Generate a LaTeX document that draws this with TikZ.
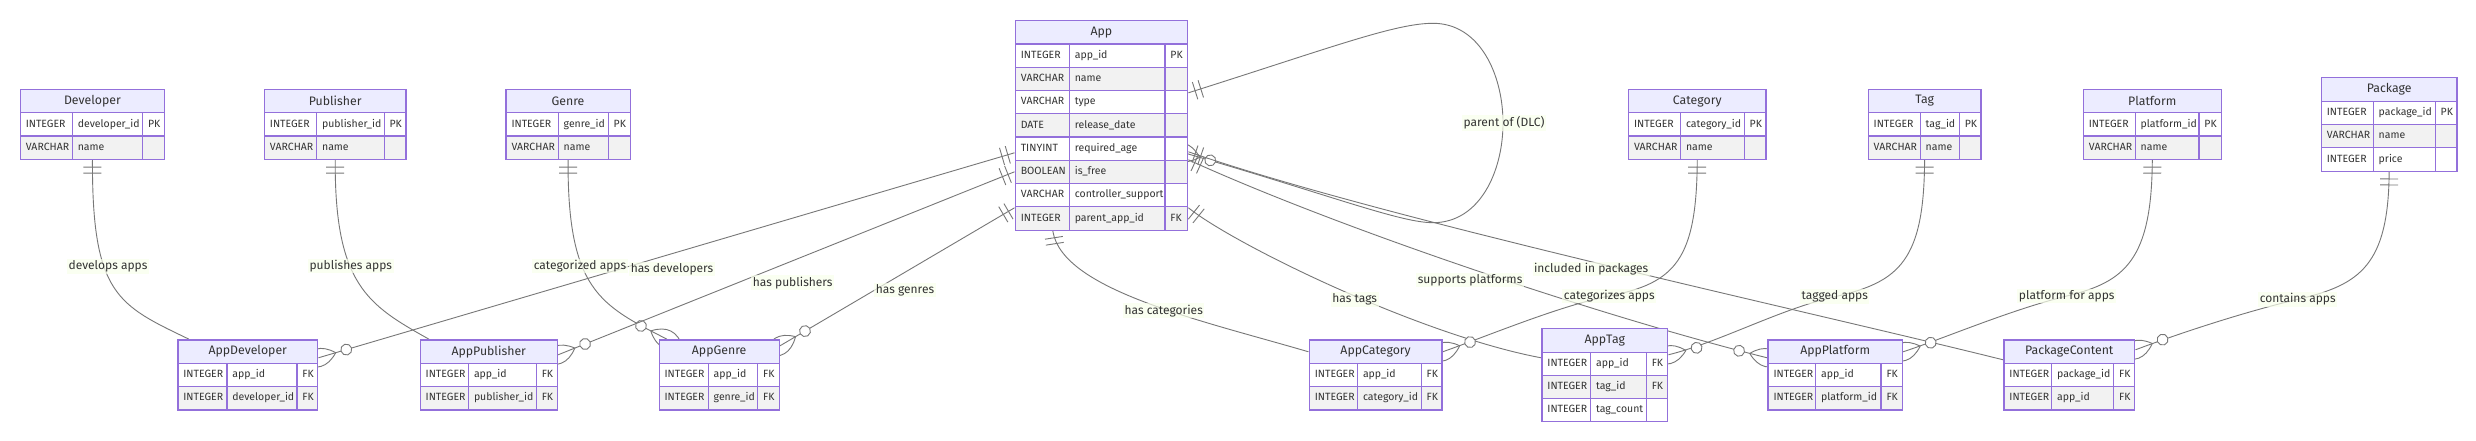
\documentclass[tikz,border=0pt]{standalone}
\usepackage{fontspec}
\setmainfont{Fira Sans}
\usetikzlibrary{fit,decorations.markings}

\definecolor{erpurple}{HTML}{9370DB}
\definecolor{headfill}{HTML}{ECECFF}
\definecolor{rowgray}{HTML}{F2F2F2}
\definecolor{relgray}{HTML}{777777}
\definecolor{lblfill}{HTML}{F9FFEC}
\definecolor{txt}{HTML}{333333}

\pgfdeclarelayer{bg}
\pgfsetlayers{bg,main}

\tikzset{
  erhead/.style={draw=erpurple, line width=1.2pt, fill=headfill, text=txt, inner sep=0pt,
    minimum height=23.5pt, font=\fontsize{12.3}{14}\selectfont},
  ercell/.style={draw=erpurple, line width=1.2pt, text=txt, inner xsep=5.5pt, inner ysep=0pt,
    minimum height=23.25pt, align=left, text height=7.6pt, text depth=2.4pt,
    font=\fontsize{10.5}{12}\selectfont},
  rellabel/.style={fill=lblfill, fill opacity=0.7, text opacity=1, text=txt, inner sep=1.5pt,
    font=\fontsize{12}{14}\selectfont},
  relmark/.style={draw=relgray, line width=0.9pt},
  rel/.style={draw=relgray, line width=0.9pt, postaction={decorate, decoration={markings,
      mark=at position 0 with {\draw[relmark] (7,-9) -- (7,9) (13,-9) -- (13,9);},
      mark=at position 1 with {\draw[relmark] (-18,0) .. controls (-6,12) and (6,12) .. (18,0)
          .. controls (6,-12) and (-6,-12) .. (-18,0);
        \draw[relmark, fill=white] (-29,0) circle[radius=5.5pt];}}}}
}

% entity table: name, left, top, three column widths, title, rows
\newcommand{\erent}[8]{%
  \pgfmathsetmacro\erw{#4+#5+#6}
  \pgfmathsetmacro\wa{#4-11}
  \pgfmathsetmacro\wb{#5-11}
  \pgfmathsetmacro\wc{#6-11}
  \node[erhead, minimum width=\erw pt, anchor=north west] (#1-h) at (#2,#3) {#7};
  \foreach \ta/\tb/\tc [count=\i] in {#8} {
    \pgfmathsetmacro\ery{#3+23.5+(\i-1)*23.25}
    \ifodd\i\relax \def\erfill{white}\else \def\erfill{rowgray}\fi
    \node[ercell, fill=\erfill, text width=\wa pt, anchor=north west] (#1-\i-a) at (#2,\ery) {\ta};
    \node[ercell, fill=\erfill, text width=\wb pt, anchor=north west] (#1-\i-b) at (#2+#4,\ery) {\tb};
    \node[ercell, fill=\erfill, text width=\wc pt, anchor=north west] (#1-\i-c) at (#2+#4+#5,\ery) {\tc};
    \xdef\erlast{\i}
  }
  \node[fit=(#1-h)(#1-\erlast-c), inner sep=0pt] (#1) {};
}

\begin{document}
\begin{tikzpicture}[x=1pt,y=-1pt]
\useasboundingbox (0,0) rectangle (2476,441);

% top row
\erent{dev}{19.7}{88.7}{52}{70.3}{22}{Developer}{INTEGER/developer\_id/PK, VARCHAR/name/{}}
\erent{pub}{263.8}{88.7}{52.2}{67.5}{21.9}{Publisher}{INTEGER/publisher\_id/PK, VARCHAR/name/{}}
\erent{gen}{505.4}{88.7}{52.2}{50}{21.9}{Genre}{INTEGER/genre\_id/PK, VARCHAR/name/{}}
\erent{app}{1014.7}{20}{54}{95.6}{22.7}{App}{INTEGER/app\_id/PK, VARCHAR/name/{}, VARCHAR/type/{},
  DATE/release\_date/{}, TINYINT/required\_age/{}, BOOLEAN/is\_free/{},
  VARCHAR/controller\_support/{}, INTEGER/parent\_app\_id/FK}
\erent{cat}{1627.9}{88.7}{52}{63.7}{21.8}{Category}{INTEGER/category\_id/PK, VARCHAR/name/{}}
\erent{tag}{1867.6}{88.7}{52}{39.1}{21.7}{Tag}{INTEGER/tag\_id/PK, VARCHAR/name/{}}
\erent{plat}{2082.7}{88.7}{51.9}{63.7}{22.4}{Platform}{INTEGER/platform\_id/PK, VARCHAR/name/{}}
\erent{pkg}{2320.7}{77.3}{51.9}{62}{21.8}{Package}{INTEGER/package\_id/PK, VARCHAR/name/{}, INTEGER/price/{}}

% bottom row
\erent{adev}{177.3}{339.3}{49}{70}{20.7}{AppDeveloper}{INTEGER/app\_id/FK, INTEGER/developer\_id/FK}
\erent{apub}{419.6}{339.3}{48.3}{67.8}{21}{AppPublisher}{INTEGER/app\_id/FK, INTEGER/publisher\_id/FK}
\erent{agen}{658.5}{339.3}{49.1}{49.5}{21.5}{AppGenre}{INTEGER/app\_id/FK, INTEGER/genre\_id/FK}
\erent{acat}{1308.7}{339.3}{48.2}{63.7}{20.7}{AppCategory}{INTEGER/app\_id/FK, INTEGER/category\_id/FK}
\erent{atag}{1541.3}{328}{48.7}{55.7}{21.3}{AppTag}{INTEGER/app\_id/FK, INTEGER/tag\_id/FK, INTEGER/tag\_count/{}}
\erent{aplat}{1767.4}{339.3}{47.6}{65.4}{21.3}{AppPlatform}{INTEGER/app\_id/FK, INTEGER/platform\_id/FK}
\erent{pcont}{2003.3}{339.3}{47.7}{62}{21}{PackageContent}{INTEGER/package\_id/FK, INTEGER/app\_id/FK}

\begin{pgfonlayer}{bg}
\fill[white] (0,0) rectangle (2476,441);
% lookup tables on the left
\draw[rel] (dev.south) .. controls (92,295) and (118,305) .. ([xshift=11.7pt]adev.north west);
\draw[rel] (pub.south) .. controls (334.6,285) and (368,305) .. ([xshift=9.4pt]apub.north west);
\draw[rel] (gen.south) .. controls (567.5,290) and (600,305) .. ([xshift=8.5pt]agen.north west);
\draw[rel] ([yshift=-133pt]app.north west) -- ([yshift=-18.7pt]adev.north east);
\draw[rel] ([yshift=-152pt]app.north west) -- ([yshift=-15.7pt]apub.north east);
\draw[rel] ([yshift=-188pt]app.north west) -- ([yshift=-6.7pt]agen.north east);
% DLC loop
\draw[rel] ([yshift=-73pt]app.north east) .. controls (1330,48) and (1395,23.3) .. (1433,23.3)
  .. controls (1480,23.3) and (1503,75) .. (1503,123)
  .. controls (1503,171) and (1480,222.7) .. (1433,222.7)
  .. controls (1400,222.7) and (1330,195) .. ([xshift=-6pt,yshift=-132.5pt]app.north east);
% app to the right
\draw[rel] ([xshift=38.3pt]app.south west) .. controls (1062,290) and (1200,320) .. ([yshift=-12.7pt]acat.north west);
\draw[rel] ([yshift=-188pt]app.north east) .. controls (1235,245) and (1420,335) .. ([yshift=-30pt]atag.north west);
\draw[rel] ([yshift=-140pt]app.north east) .. controls (1337,227.5) and (1597.4,315.5) .. ([yshift=-18.7pt]aplat.north west);
\draw[rel] ([yshift=-132pt]app.north east) .. controls (1387,220) and (1803.3,310) .. ([yshift=-20.7pt]pcont.north west);
% lookup tables on the right
\draw[rel] (cat.south) .. controls (1696.7,260) and (1675,283) .. (1609.3,296)
  .. controls (1560,305.7) and (1490,335) .. ([yshift=-12.7pt]acat.north east);
\draw[rel] (tag.south) .. controls (1924,260) and (1900,282) .. (1834.8,296.7)
  .. controls (1780,309) and (1720,342) .. ([yshift=-27pt]atag.north east);
\draw[rel] (plat.south) .. controls (2151.7,260) and (2125,282) .. (2066.7,296)
  .. controls (2010,310) and (1945,338) .. ([yshift=-12.7pt]aplat.north east);
\draw[rel] (pkg.south) .. controls (2388.5,265) and (2360,285) .. (2297.7,299.3)
  .. controls (2240,313) and (2175,335) .. ([yshift=-10.7pt]pcont.north east);
\end{pgfonlayer}

% labels
\node[rellabel] (l-dev) at (108,266.7) {develops apps};
\node[rellabel] (l-pub) at (350.8,266) {publishes apps};
\node[rellabel] (l-gen) at (580,266) {categorized apps};
\node[rellabel] (l-hdev) at (672,269) {has developers};
\node[rellabel] (l-hpub) at (792.7,282.7) {has publishers};
\node[rellabel] (l-hgen) at (905,290) {has genres};
\node[rellabel] (l-dlc) at (1504,122.7) {parent of (DLC)};
\node[rellabel] (l-hcat) at (1163.7,310.7) {has categories};
\node[rellabel] (l-htag) at (1354.7,299.3) {has tags};
\node[rellabel] (l-hplat) at (1470.1,280) {supports platforms};
\node[rellabel] (l-hpkg) at (1591.1,269) {included in packages};
\node[rellabel] (l-cat) at (1609.3,296) {categorizes apps};
\node[rellabel] (l-tag) at (1834.8,296.7) {tagged apps};
\node[rellabel] (l-plat) at (2066.7,296) {platform for apps};
\node[rellabel] (l-pkg) at (2297.7,299.3) {contains apps};
\end{tikzpicture}
\end{document}
